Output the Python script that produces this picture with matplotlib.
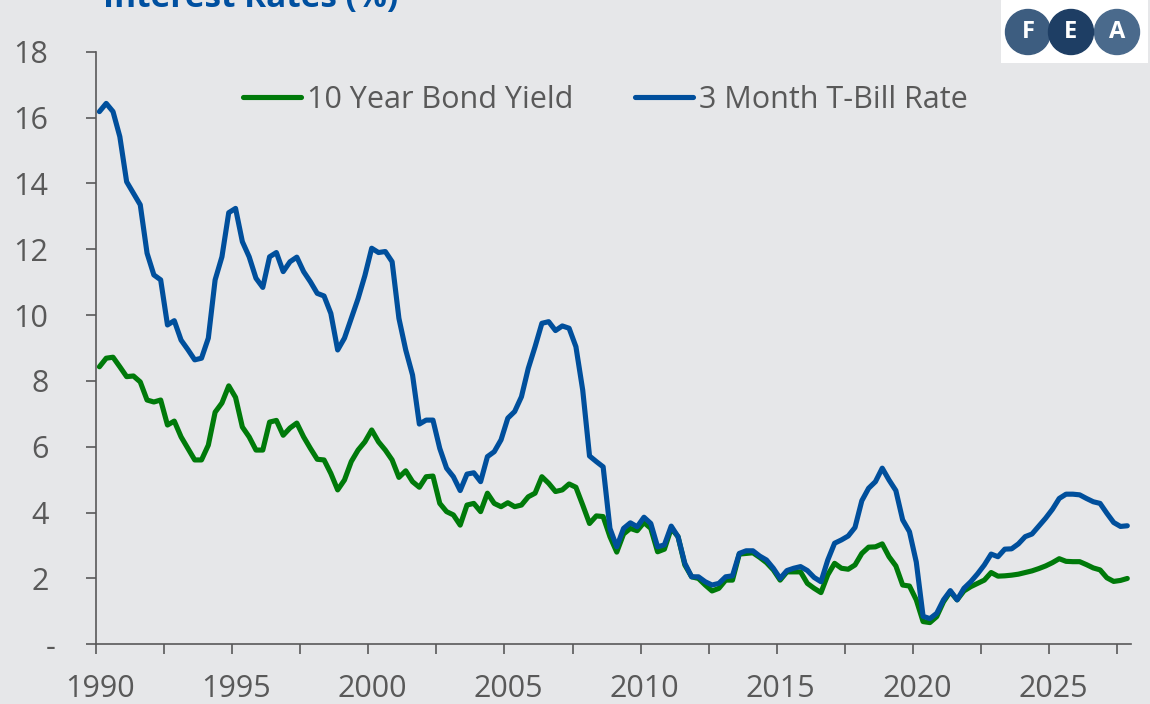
import numpy as np
import pandas as pd
import matplotlib
matplotlib.use('Agg')
import matplotlib.pyplot as plt
from matplotlib.patches import Circle, Rectangle
from matplotlib.transforms import ScaledTranslation

# quarterly series, 1990Q1 .. 2027Q4
quarters = pd.period_range('1990Q1', '2027Q4', freq='Q')

bond_10y = [
    8.43, 8.69, 8.72, 8.43, 8.13, 8.15, 7.97, 7.42, 7.36, 7.42,   # 1990-92
    6.66, 6.78, 6.30, 5.95, 5.60, 5.60, 6.05, 7.05, 7.33, 7.85,   # 1992-94
    7.50, 6.60, 6.30, 5.90, 5.90, 6.75, 6.80, 6.35, 6.57, 6.72,   # 1995-97
    6.30, 5.95, 5.62, 5.60, 5.19, 4.69, 4.99, 5.55, 5.90, 6.15,   # 1997-99
    6.51, 6.15, 5.90, 5.60, 5.07, 5.27, 4.94, 4.77, 5.09, 5.11,   # 2000-02
    4.28, 4.03, 3.93, 3.62, 4.23, 4.28, 4.03, 4.59, 4.28, 4.18,   # 2002-04
    4.30, 4.18, 4.23, 4.48, 4.59, 5.09, 4.89, 4.64, 4.69, 4.87,   # 2005-07
    4.77, 4.23, 3.67, 3.90, 3.88, 3.27, 2.80, 3.35, 3.52, 3.45,   # 2007-09
    3.70, 3.52, 2.81, 2.89, 3.52, 3.27, 2.41, 2.05, 2.00, 1.80,   # 2010-12
    1.62, 1.70, 1.95, 1.95, 2.74, 2.76, 2.78, 2.64, 2.48, 2.26,   # 2012-14
    1.95, 2.20, 2.20, 2.20, 1.85, 1.70, 1.57, 2.11, 2.46, 2.31,   # 2015-17
    2.28, 2.41, 2.76, 2.95, 2.96, 3.05, 2.66, 2.38, 1.80, 1.77,   # 2017-19
    1.35, 0.69, 0.66, 0.84, 1.29, 1.60, 1.35, 1.62, 1.75, 1.85,   # 2020-22
    1.95, 2.18, 2.07, 2.08, 2.10, 2.13, 2.18, 2.23, 2.30, 2.38,   # 2022-24
    2.48, 2.60, 2.52, 2.51, 2.51, 2.42, 2.32, 2.26, 2.02, 1.91,   # 2025-27
    1.94, 2.00,
]

tbill_3m = [
    16.18, 16.43, 16.18, 15.42, 14.05, 13.70, 13.35, 11.88, 11.22, 11.07,
    9.70, 9.83, 9.24, 8.95, 8.64, 8.69, 9.30, 11.07, 11.77, 13.11,
    13.24, 12.23, 11.77, 11.12, 10.84, 11.77, 11.90, 11.32, 11.62, 11.76,
    11.32, 11.01, 10.66, 10.58, 10.05, 8.94, 9.30, 9.90, 10.50, 11.20,
    12.03, 11.90, 11.93, 11.62, 9.90, 8.94, 8.18, 6.69, 6.81, 6.81,
    5.95, 5.35, 5.09, 4.67, 5.17, 5.21, 4.94, 5.70, 5.85, 6.21,
    6.87, 7.07, 7.52, 8.38, 9.04, 9.75, 9.80, 9.53, 9.67, 9.60,
    9.04, 7.72, 5.72, 5.55, 5.39, 3.52, 2.96, 3.52, 3.69, 3.57,
    3.86, 3.67, 2.96, 3.02, 3.59, 3.27, 2.46, 2.05, 2.05, 1.90,
    1.80, 1.85, 2.05, 2.08, 2.76, 2.84, 2.84, 2.68, 2.56, 2.31,
    2.00, 2.24, 2.31, 2.36, 2.24, 2.03, 1.90, 2.56, 3.07, 3.17,
    3.29, 3.55, 4.36, 4.74, 4.94, 5.35, 4.99, 4.67, 3.78, 3.42,
    2.50, 0.85, 0.78, 0.94, 1.35, 1.63, 1.35, 1.70, 1.90, 2.14,
    2.41, 2.74, 2.66, 2.89, 2.90, 3.05, 3.27, 3.35, 3.59, 3.83,
    4.10, 4.43, 4.56, 4.56, 4.54, 4.43, 4.33, 4.28, 3.98, 3.70,
    3.58, 3.60,
]

y_ticks = [0, 2, 4, 6, 8, 10, 12, 14, 16, 18]
y_labels = ['-', '2', '4', '6', '8', '10', '12', '14', '16', '18']
x_labels = [1990, 1995, 2000, 2005, 2010, 2015, 2020, 2025]

BG = '#e6e7e9'
GREY = '#595959'
GREEN = '#007a0a'
BLUE = '#004f9c'

plt.rcParams['font.family'] = ['Open Sans', 'DejaVu Sans']

W, H = 1150, 704
fig = plt.figure(figsize=(W / 100, H / 100), dpi=100, facecolor=BG)
ax = fig.add_axes([96 / W, (H - 644.3) / H, (1130.7 - 96) / W, (644.3 - 51.7) / H])
ax.set_facecolor(BG)

x = quarters.year + (quarters.quarter - 0.5) / 4
ax.plot(x, bond_10y, color=GREEN, lw=3.7, solid_capstyle='round', solid_joinstyle='round',
        label='10 Year Bond Yield')
ax.plot(x, tbill_3m, color=BLUE, lw=3.7, solid_capstyle='round', solid_joinstyle='round',
        label='3 Month T-Bill Rate')

ax.set_xlim(1990, 2028)
ax.set_ylim(0, 18)
for s in ['top', 'right']:
    ax.spines[s].set_visible(False)
for s in ['left', 'bottom']:
    ax.spines[s].set_color(GREY)
    ax.spines[s].set_linewidth(1.2)

ax.set_yticks(y_ticks)
ax.set_yticklabels(y_labels)
ax.set_xticks(x_labels)
ax.set_xticklabels([str(v) for v in x_labels])
ax.set_xticks(np.arange(1992.5, 2028, 5), minor=True)
ax.tick_params(axis='both', which='both', direction='out', length=7.2, width=1.2,
               color=GREY, labelcolor=GREY, labelsize=22)
ax.tick_params(axis='y', pad=27)
ax.tick_params(axis='x', pad=14)

# small nudges to match the source's label placement
for lbl in ax.get_xticklabels():
    lbl.set_transform(lbl.get_transform() + ScaledTranslation(4 / 100, 0, fig.dpi_scale_trans))
ylbls = ax.get_yticklabels()
ylbls[0].set_transform(ylbls[0].get_transform() + ScaledTranslation(7 / 100, 0, fig.dpi_scale_trans))

leg = ax.legend(loc='center left', bbox_to_anchor=(0.142, 0.9185), ncol=2, frameon=False,
                handlelength=1.9, handletextpad=0.2, columnspacing=2.0, borderpad=0,
                borderaxespad=0, fontsize=22)
for t in leg.get_texts():
    t.set_color(GREY)

# title, cut off at the top edge as in the source
fig.text(103 / W, 1 - 7 / H, 'Interest Rates (%)', fontsize=24, fontweight='bold',
         color='#0050a0', ha='left', va='baseline')

# FEA logo
lax = fig.add_axes([1001 / W, 1 - 63 / H, 147 / W, 63 / H])
lax.set_xlim(0, 147)
lax.set_ylim(0, 63)
lax.axis('off')
lax.add_patch(Rectangle((0, 0), 147, 63, color='white'))
logo_cols = ['#3d5d80', '#4a6a8c', '#1e3e64']
for cx, col, ch, z in [(27, '#3d5d80', 'F', 1), (116, '#4a6a8c', 'A', 1), (70, '#1e3e64', 'E', 2)]:
    lax.add_patch(Circle((cx, 31), 22.5, color=col, zorder=z))
    lax.text(cx, 31, ch, color='white', fontsize=17, fontweight='bold',
             ha='center', va='center', zorder=3)

fig.savefig('out.png', dpi=100, facecolor=BG)
